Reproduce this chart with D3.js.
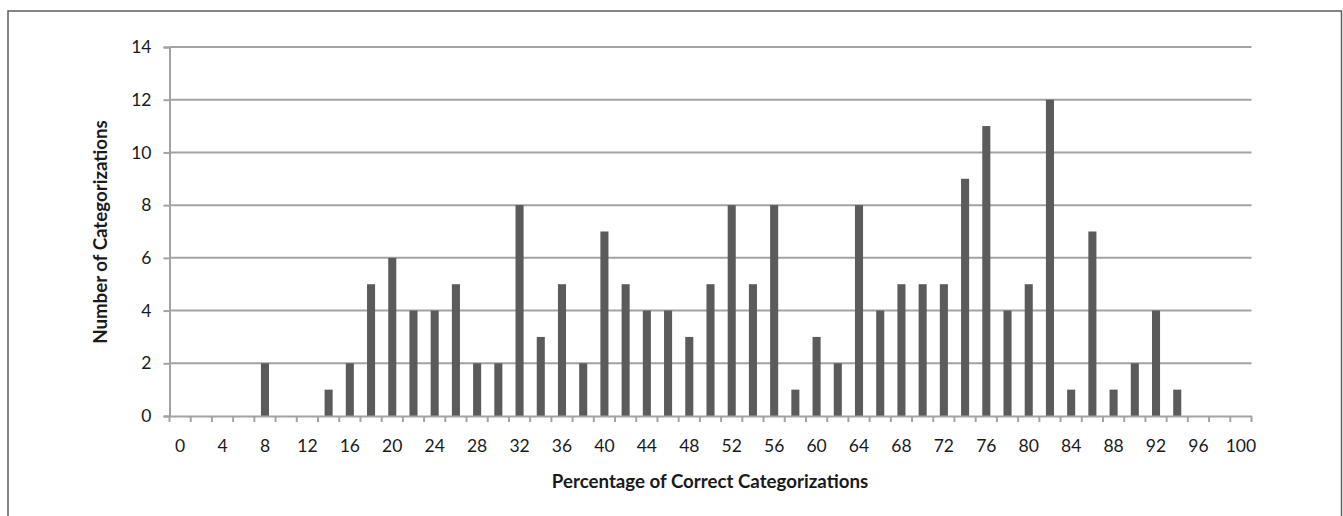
<!DOCTYPE html>
<html><head><meta charset="utf-8">
<script src="https://cdn.jsdelivr.net/npm/d3@7"></script>
<style>body{margin:0;background:#fff}svg{display:block}</style>
</head><body>
<svg id="c" width="1343" height="516"></svg>
<script>
const categories = ["0","2","4","6","8","10","12","14","16","18","20","22","24","26","28","30","32","34","36","38","40","42","44","46","48","50","52","54","56","58","60","62","64","66","68","70","72","74","76","78","80","82","84","86","88","90","92","94","96","98","100"];
const values = [0,0,0,0,2,0,0,1,2,5,6,4,4,5,2,2,8,3,5,2,7,5,4,4,3,5,8,5,8,1,3,2,8,4,5,5,5,9,11,4,5,12,1,7,1,2,4,1,0,0,0];
const xTickLabels = ["0","4","8","12","16","20","24","28","32","36","40","44","48","52","56","60","64","68","72","76","80","84","88","92","96","100"];
const yTicks = [0,2,4,6,8,10,12,14];
const xTitle = "Percentage of Correct Categorizations";
const yTitle = "Number of Categorizations";

const svg = d3.select("#c");
const font = "Lato, 'Open Sans', sans-serif";
const L = 169.5, R = 1251.5, T = 47, B = 416;
const gridColor = "#a3a3a5";

// frame
svg.append("rect").attr("x",8).attr("y",11).attr("width",1333.5).attr("height",600)
  .attr("fill","none").attr("stroke","#5e5e5e").attr("stroke-width",1.5);

const x = d3.scaleBand().domain(categories).range([L,R]).paddingInner(0.62).paddingOuter(0.31);
const xb = d3.scaleBand().domain(categories).range([L,R]);
const y = d3.scaleLinear().domain([0,14]).range([B,T]);

// gridlines
svg.append("g").selectAll("line").data(yTicks.filter(d=>d>0)).join("line")
  .attr("x1",L).attr("x2",R).attr("y1",d=>y(d)).attr("y2",d=>y(d))
  .attr("stroke",gridColor).attr("stroke-width",2);

// bars
svg.append("g").selectAll("rect").data(values).join("rect")
  .attr("x",(d,i)=>x(categories[i])).attr("width",x.bandwidth())
  .attr("y",d=>y(d)).attr("height",d=>B-y(d)).attr("fill","#5b5b5d");

// y axis
const ya = svg.append("g").attr("transform",`translate(${L},0)`)
  .call(d3.axisLeft(y).tickValues(yTicks).tickSize(6).tickPadding(12));
ya.select(".domain").attr("stroke",gridColor).attr("stroke-width",2);
ya.selectAll(".tick line").attr("stroke",gridColor).attr("stroke-width",2);
ya.selectAll("text").attr("font-family",font).attr("font-size",17.5).attr("fill","#1a1a1a");

// x axis
const xa = svg.append("g").attr("transform",`translate(0,${B})`)
  .call(d3.axisBottom(xb).tickValues(xTickLabels).tickSize(0).tickPadding(24));
xa.select(".domain").attr("stroke",gridColor).attr("stroke-width",2);
xa.selectAll("text").attr("font-family",font).attr("font-size",17.5).attr("fill","#1a1a1a");
// boundary tick marks
const bounds = categories.map(c=>xb(c)).concat([R]);
svg.append("g").selectAll("line").data(bounds).join("line")
  .attr("x1",d=>d).attr("x2",d=>d).attr("y1",B).attr("y2",B+6)
  .attr("stroke",gridColor).attr("stroke-width",2);

// titles
svg.append("text").attr("x",710).attr("y",488).attr("text-anchor","middle")
  .attr("font-family",font).attr("font-weight","bold").attr("font-size",18.7).attr("fill","#1a1a1a").text(xTitle);
svg.append("text").attr("transform","translate(107,232) rotate(-90)").attr("text-anchor","middle")
  .attr("font-family",font).attr("font-weight","bold").attr("font-size",18.7).attr("fill","#1a1a1a").text(yTitle);
</script>
</body></html>
